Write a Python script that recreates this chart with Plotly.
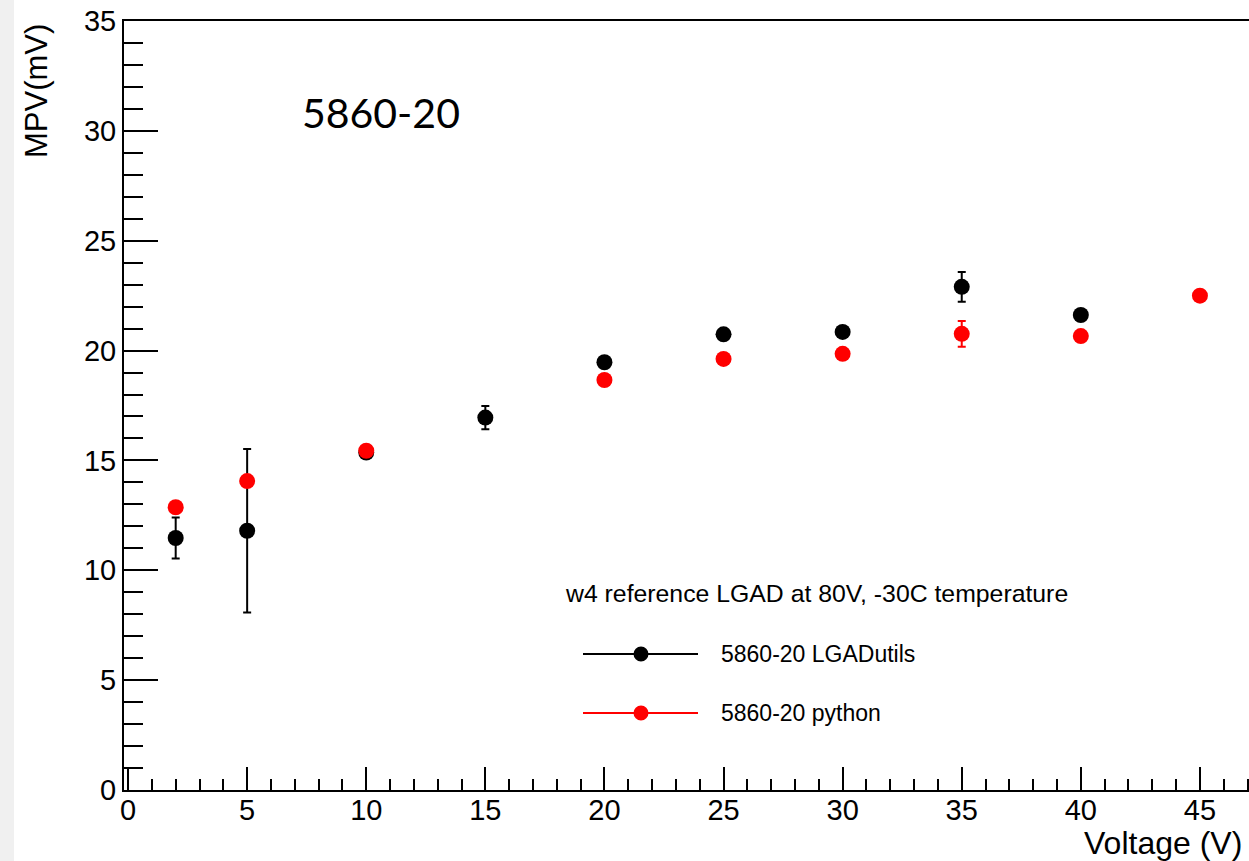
import plotly.graph_objects as go

# Data
volt_lgadutils = [2, 5, 10, 15, 20, 25, 30, 35, 40]
mpv_lgadutils = [11.47, 11.80, 15.36, 16.95, 19.47, 20.74, 20.85, 22.90, 21.62]
err_lgadutils = [0.93, 3.72, 0.0, 0.53, 0.0, 0.0, 0.0, 0.68, 0.0]

volt_python = [2, 5, 10, 20, 25, 30, 35, 40, 45]
mpv_python = [12.87, 14.06, 15.44, 18.66, 19.62, 19.85, 20.76, 20.66, 22.50]
err_python = [0.0, 0.0, 0.0, 0.0, 0.0, 0.0, 0.59, 0.0, 0.0]

x_ticks = [0, 5, 10, 15, 20, 25, 30, 35, 40, 45]
y_ticks = [0, 5, 10, 15, 20, 25, 30, 35]

name_a = "5860-20 LGADutils"
name_b = "5860-20 python"
legend_header = "w4 reference LGAD at 80V, -30C temperature"
label_text = "5860-20"

W, H = 1249, 861
ML, MR, MT, MB = 124, 0, 21, 71
PW = W - ML - MR
PH = H - MT - MB

def px_x(p):
    return (p - ML) / PW

def px_y(p):
    return (H - MB - p) / PH

FONT = "Liberation Sans, Arial, sans-serif"
RED = "#ff0000"

fig = go.Figure()

fig.add_trace(go.Scatter(
    x=volt_lgadutils, y=mpv_lgadutils, mode="markers", name=name_a,
    marker=dict(color="black", size=16),
    error_y=dict(type="data", array=err_lgadutils, color="black", thickness=2, width=4),
    showlegend=False,
))
fig.add_trace(go.Scatter(
    x=volt_python, y=mpv_python, mode="markers", name=name_b,
    marker=dict(color=RED, size=16),
    error_y=dict(type="data", array=err_python, color=RED, thickness=2, width=4),
    showlegend=False,
))

# Hand-built legend box (ROOT style: line with marker, header line)
leg_x0, leg_x1, leg_mx, leg_tx = 583, 698, 641, 719
leg_rows = [(name_a, "black", 654), (name_b, RED, 713)]

shapes = [
    dict(type="rect", xref="paper", yref="paper",
         x0=px_x(0), x1=px_x(14), y0=px_y(H), y1=px_y(0),
         fillcolor="#f0f0f0", line=dict(width=0), layer="below"),
]
annotations = [
    dict(text=label_text, xref="paper", yref="paper", x=px_x(381), y=px_y(113),
         xanchor="center", yanchor="middle", showarrow=False,
         font=dict(family="Lato, sans-serif", size=41, color="black")),
    dict(text="Voltage (V)", xref="paper", yref="paper", x=px_x(1244), y=px_y(843),
         xanchor="right", yanchor="middle", showarrow=False,
         font=dict(family=FONT, size=32, color="black")),
    dict(text="MPV(mV)", xref="paper", yref="paper", x=px_x(37), y=px_y(22),
         xanchor="center", yanchor="top", textangle=-90, showarrow=False,
         font=dict(family=FONT, size=31, color="black")),
    dict(text=legend_header, xref="paper", yref="paper", x=px_x(563), y=px_y(593),
         xanchor="left", yanchor="middle", showarrow=False,
         font=dict(family=FONT, size=24.8, color="black")),
]
for name, col, yy in leg_rows:
    shapes.append(dict(type="line", xref="paper", yref="paper",
                       x0=px_x(leg_x0), x1=px_x(leg_x1), y0=px_y(yy), y1=px_y(yy),
                       line=dict(color=col, width=2)))
    shapes.append(dict(type="circle", xref="paper", yref="paper",
                       xsizemode="pixel", ysizemode="pixel",
                       xanchor=px_x(leg_mx), yanchor=px_y(yy),
                       x0=-7.5, x1=7.5, y0=-7.5, y1=7.5,
                       fillcolor=col, line=dict(color=col, width=0)))
    annotations.append(dict(text=name, xref="paper", yref="paper", x=px_x(leg_tx), y=px_y(yy),
                            xanchor="left", yanchor="middle", showarrow=False,
                            font=dict(family=FONT, size=23, color="black")))

fig.update_layout(
    width=W, height=H,
    margin=dict(l=ML, r=MR, t=MT, b=MB, pad=0),
    paper_bgcolor="white", plot_bgcolor="white",
    font=dict(family=FONT, color="black"),
    showlegend=False,
    xaxis=dict(
        range=[-0.17, 47.06], tickvals=x_ticks, ticks="inside", ticklen=23,
        tickwidth=2, tickcolor="black", showline=True, linewidth=2,
        linecolor="black", mirror=True, showgrid=False, zeroline=False,
        ticklabelstandoff=-7,
        tickfont=dict(size=29, family=FONT, color="black"),
        minor=dict(dtick=1, ticks="inside", ticklen=11, tickwidth=2, tickcolor="black", showgrid=False),
    ),
    yaxis=dict(
        range=[0, 35], tickvals=y_ticks, ticks="inside", ticklen=34,
        tickwidth=2, tickcolor="black", showline=True, linewidth=2,
        linecolor="black", mirror=False, showgrid=False, zeroline=False,
        tickfont=dict(size=29, family=FONT, color="black"),
        minor=dict(dtick=1, ticks="inside", ticklen=19, tickwidth=2, tickcolor="black", showgrid=False),
    ),
    shapes=shapes,
    annotations=annotations,
)

fig.write_html("out.html")
